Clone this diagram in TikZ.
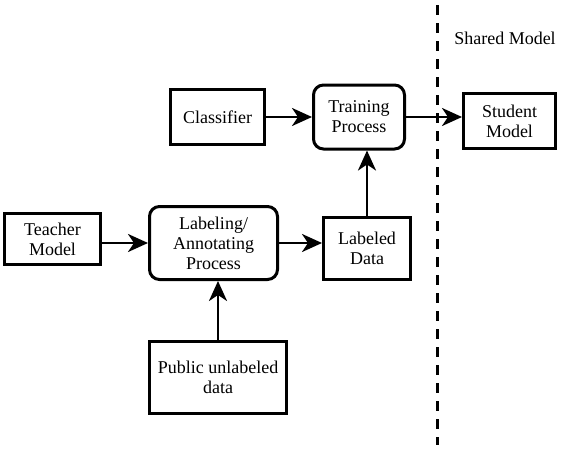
\documentclass[tikz,border=0pt]{standalone}
\usepackage{fontspec}
\setmainfont{Liberation Serif}
\newfontfamily\labelfont{Liberation Serif}
\usetikzlibrary{positioning, arrows.meta, calc}

\begin{document}
\begin{tikzpicture}[x=0.5pt, y=-0.5pt]
	% 定义方框、箭头和分隔线的样式
	\tikzset{
		box/.style = {
			draw, line width=1.5pt, align=center,
			font=\labelfont\fontsize{9}{10}\selectfont,
			inner sep=0pt
		},
		process/.style = {
			box, rounded corners=5pt
		},
		flow/.style = {
			line width=1.4pt,
			-{Stealth[length=10pt, width=9pt, inset=3pt]}
		},
		divider/.style = {
			line width=1.5pt,
			dash pattern=on 5pt off 4pt
		}
	}
	
	% 固定图片边界
	\useasboundingbox (0,0) rectangle (563,450);
	
	% 上方结点
	\node[box, minimum width=47pt, minimum height=27.5pt] (classifier) at (217.5,117) {Classifier};
	\node[process, minimum width=45.5pt, minimum height=32pt] (train) at (359,117) {Training\\Process};
	\node[box, minimum width=46pt, minimum height=27.5pt] (student) at (509.5,121) {Student\\Model};
	
	% 下方结点
	\node[box, minimum width=48pt, minimum height=25.5pt] (teacher) at (52.5,239) {Teacher\\Model};
	\node[process, minimum width=64pt, minimum height=36.5pt] (labeling) at (213.5,243) {Labeling/\\Annotating\\Process};
	\node[box, minimum width=43.5pt, minimum height=31pt] (labeled) at (367,248.5) {Labeled\\Data};
	\node[box, minimum width=68.5pt, minimum height=36pt] (public) at (218,377.5) {Public unlabeled\\data};
	
	% 共享模型的分隔线
	\coordinate (divtop) at (437,5);
	\coordinate (divbottom) at (437,445);
	\draw[divider] (divtop) -- (divbottom);
	\node[font=\labelfont\fontsize{9}{10}\selectfont] (shared) at (505,38) {Shared Model};
	
	% 箭头
	\draw[flow] (classifier) -- (train);
	\draw[flow] (train.east) -- (train.east -| student.west);
	\draw[flow] (labeling.west -| teacher.east) -- (labeling.west);
	\draw[flow] (labeling.east) -- (labeling.east -| labeled.west);
	\draw[flow] (labeled.north) -- (labeled.north |- train.south);
	\draw[flow] (public.north) -- (public.north |- labeling.south);
\end{tikzpicture}
\end{document}
